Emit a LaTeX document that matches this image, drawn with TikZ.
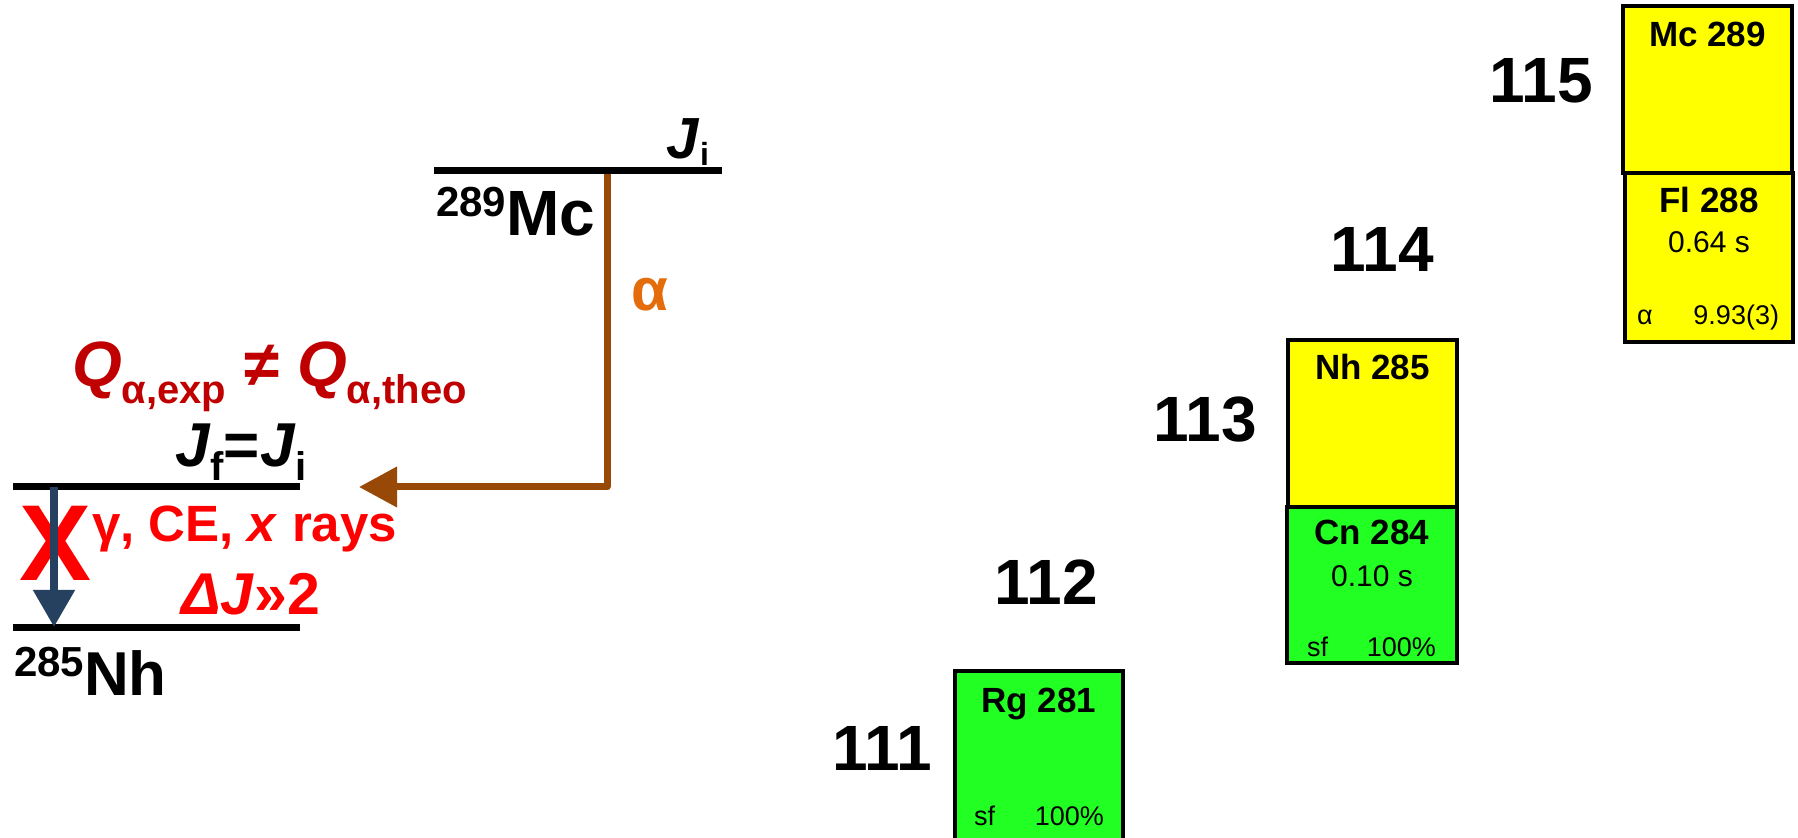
\documentclass[tikz,border=0pt]{standalone}
\usepackage{fontspec}
\setmainfont{Liberation Sans}
\usetikzlibrary{arrows.meta}
\definecolor{brn}{RGB}{152,72,7}
\definecolor{orng}{RGB}{228,108,10}
\definecolor{dred}{RGB}{192,0,0}
\definecolor{navyc}{RGB}{38,64,96}
\definecolor{yel}{RGB}{255,255,0}
\definecolor{grn}{RGB}{34,255,34}
\newcommand{\myfs}[1]{\fontsize{#1}{#1}\selectfont}
\tikzset{
  lvl/.style={line width=3.5pt},
  nuc/.style={draw=black, line width=2.2pt},
  zlab/.style={font=\myfs{32}\bfseries, anchor=base},
  ttl/.style={font=\myfs{17.5}\bfseries, anchor=base},
  hl/.style={font=\myfs{15}, anchor=base},
  dm/.style={font=\myfs{13.5}, anchor=base west},
  dv/.style={font=\myfs{13.5}, anchor=base east},
}
\begin{document}
\begin{tikzpicture}[x=0.5pt,y=-0.5pt, every node/.style={inner sep=0pt,outer sep=0pt}]
\useasboundingbox (0,0) rectangle (1798,838);
\clip (0,0) rectangle (1798,838);
\fill[white] (0,0) rectangle (1798,838);

% chart boxes
\node[nuc, fill=yel, minimum width=84.5pt, minimum height=83.5pt] (mc) at (1707.5,89.5) {};
\node[nuc, fill=yel, minimum width=84pt, minimum height=84.5pt] (fl) at (1709,257.5) {};
\node[nuc, fill=yel, minimum width=84.5pt, minimum height=83.5pt] (nh) at (1372.5,423.5) {};
\node[nuc, fill=grn, minimum width=85pt, minimum height=78pt] (cn) at (1372,585) {};
\node[nuc, fill=grn, minimum width=84pt, minimum height=90pt] (rg) at (1039,761) {};

\node[ttl] (mct) at (1707.5,47) {Mc 289};
\node[ttl] (flt) at (1709,213) {Fl 288};
\node[hl] (flh) at (1709,253) {0.64 s};
\node[dm] (fla) at (1637,325) {α};
\node[dv] (flv) at (1779,325) {9.93(3)};
\node[ttl] (nht) at (1372.5,380) {Nh 285};
\node[ttl] (cnt) at (1372,545) {Cn 284};
\node[hl] (cnh) at (1372,587) {0.10 s};
\node[dm] (cnsf) at (1307,657) {sf};
\node[dv] (cnp) at (1436,657) {100\%};
\node[ttl] (rgt) at (1039,712) {Rg 281};
\node[dm] (rgsf) at (974,825) {sf};
\node[dv] (rgp) at (1104,825) {100\%};

% Z labels
\node[zlab] (z115) at (1541,103) {115};
\node[zlab] (z114) at (1382,272) {114};
\node[zlab] (z113) at (1205,442) {113};
\node[zlab] (z112) at (1046,605) {112};
\node[zlab] (z111) at (882,770) {111};

% level scheme
\coordinate (mcL) at (434,171);
\coordinate (mcR) at (722,171);
\coordinate (dec) at (607,171);
\coordinate (f1L) at (13,487);
\coordinate (f1R) at (300,487);
\coordinate (f0L) at (13,628);
\coordinate (f0R) at (300,628);
\coordinate (tip) at (359,487);
\coordinate (gtop) at (54,487);
\coordinate (gbot) at (54,627);

\draw[brn, line width=3.5pt, line join=round, -{Triangle[length=19pt,width=19.5pt]}] (dec) |- (tip);
\draw[lvl] (mcL) -- (mcR);
\draw[lvl] (f1L) -- (f1R);
\draw[lvl] (f0L) -- (f0R);

\node[font=\myfs{54}\bfseries, text=red, anchor=base] (xx) at (56,581) {X};
\draw[navyc, line width=4pt, -{Triangle[length=18.5pt,width=20pt]}] (gtop) -- (gbot);

\node[anchor=base west, font=\myfs{32}\bfseries] (mclab) at (436,236) {\raisebox{9.5pt}{\myfs{21}289}Mc};
\node[anchor=base east, font=\myfs{29}\bfseries] (jitop) at (709,159) {\textit{J}\raisebox{-3.5pt}{\myfs{16}i}};
\node[anchor=base, font=\myfs{30}\bfseries, text=orng] (alph) at (650,311) {α};
\node[anchor=base west, font=\myfs{32}\bfseries, text=dred] (qlab) at (72,387) {\textit{Q}\raisebox{-8.5pt}{\myfs{20}α,exp} ≠ \textit{Q}\raisebox{-8.5pt}{\myfs{20}α,theo}};
\node[anchor=base west, font=\myfs{31}\bfseries] (jfji) at (175,467) {\textit{J}\raisebox{-7pt}{\myfs{20}f}=\textit{J}\raisebox{-7pt}{\myfs{20}i}};
\node[anchor=base west, font=\myfs{25.5}\bfseries, text=red] (gam) at (92,542) {γ, CE, \textit{x} rays};
\node[anchor=base west, font=\myfs{29.5}\bfseries, text=red] (dj) at (181,615) {\textit{ΔJ}»2};
\node[anchor=base west, font=\myfs{31}\bfseries] (nhlab) at (14,696) {\raisebox{9.5pt}{\myfs{21}285}Nh};
\end{tikzpicture}
\end{document}
